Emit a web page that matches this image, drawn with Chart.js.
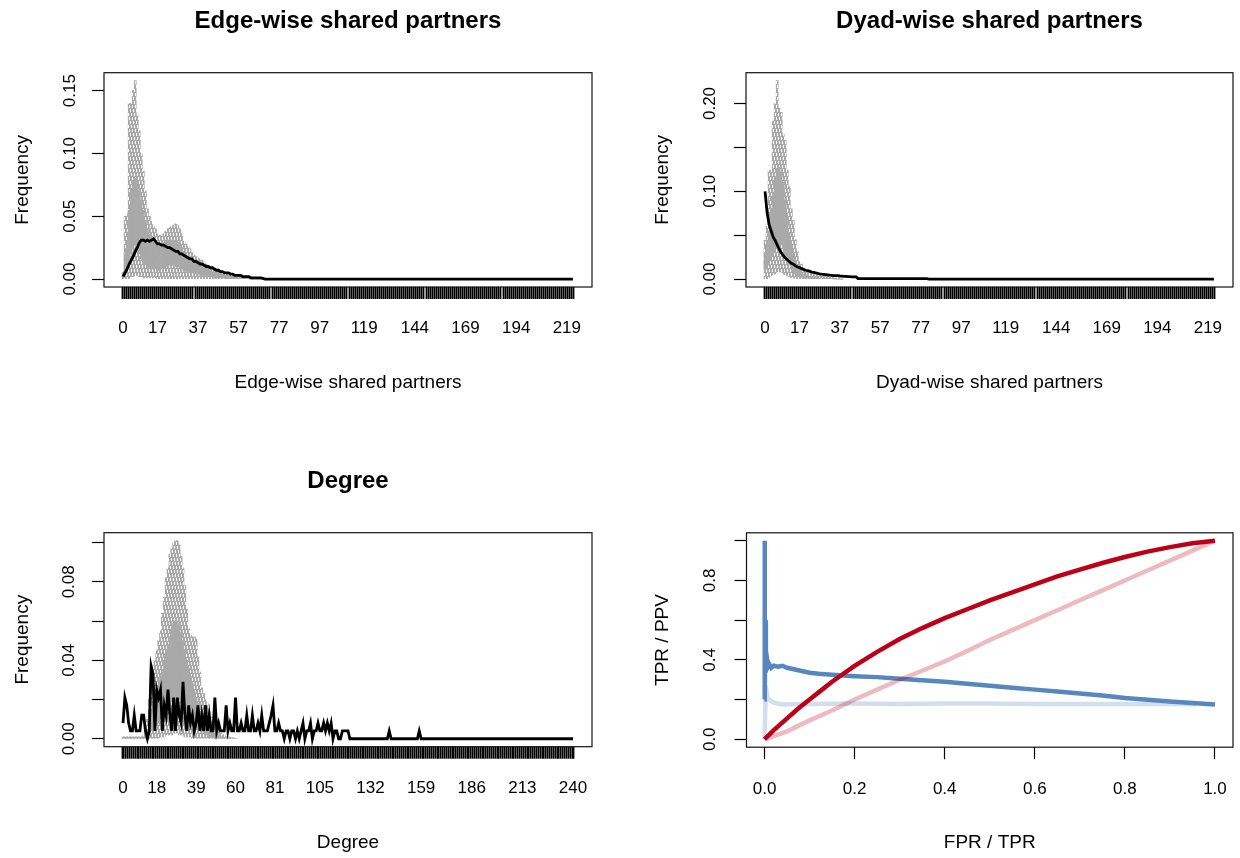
<!DOCTYPE html>
<html lang="en">
<head>
<meta charset="UTF-8">
<title>Goodness of fit</title>
<script src="https://cdn.jsdelivr.net/npm/chart.js"></script>
<style>
  body { margin: 0; background: #fff; }
  .page { position: relative; width: 1240px; height: 858px; }
  canvas { position: absolute; }
</style>
</head>
<body>
<div class="page">
  <canvas id="esp" width="620" height="429" style="left:0;top:0"></canvas>
  <canvas id="dsp" width="620" height="429" style="left:620px;top:0"></canvas>
  <canvas id="deg" width="620" height="429" style="left:0;top:429px"></canvas>
  <canvas id="roc" width="620" height="429" style="left:620px;top:429px"></canvas>
</div>
<script>
// ---- edge-wise shared partners ----
const espCats = Array.from({ length: 223 }, (_, i) => i);
const espTickLabels = [0, 17, 37, 57, 77, 97, 119, 144, 169, 194, 219];
const espObs = [
  0.002,0.005,0.008,0.012,0.015,0.018,0.022,0.025,0.029,0.031,
  0.031,0.030,0.031,0.030,0.031,0.032,0.030,0.028,0.028,0.027,
  0.027,0.026,0.025,0.025,0.024,0.023,0.022,0.022,0.020,0.020,
  0.019,0.018,0.017,0.016,0.016,0.014,0.014,0.013,0.012,0.012,
  0.011,0.010,0.010,0.009,0.009,0.008,0.007,0.007,0.006,0.006,
  0.005,0.005,0.005,0.004,0.004,0.003,0.003,0.003,0.003,0.002,
  0.002,0.002,0.002,0.001,0.001,0.001,0.001,0.001,0.001,0.0005,
  0,0,0,0,0,0,0,0,0,0, 0,0,0,0,0,0,0,0,0,0, 0,0,0,0,0,0,0,0,0,0,
  0,0,0,0,0,0,0,0,0,0, 0,0,0,0,0,0,0,0,0,0, 0,0,0,0,0,0,0,0,0,0,
  0,0,0,0,0,0,0,0,0,0, 0,0,0,0,0,0,0,0,0,0, 0,0,0,0,0,0,0,0,0,0,
  0,0,0,0,0,0,0,0,0,0, 0,0,0,0,0,0,0,0,0,0, 0,0,0,0,0,0,0,0,0,0,
  0,0,0,0,0,0,0,0,0,0, 0,0,0,0,0,0,0,0,0,0, 0,0,0,0,0,0,0,0,0,0,
  0,0,0
];
const espHi = [
  0.006,0.050,0.052,0.140,0.140,0.150,0.158,0.130,0.118,0.100,
  0.086,0.070,0.056,0.050,0.046,0.042,0.040,0.036,0.035,0.034,
  0.036,0.038,0.040,0.041,0.042,0.043,0.044,0.043,0.040,0.036,
  0.030,0.028,0.026,0.024,0.021,0.019,0.018,0.017,0.016,0.015,
  0.013,0.012,0.011,0.010,0.010,0.009,0.008,0.008,0.007,0.006,
  0.006,0.005,0.005,0.004,0.004,0.004,0.003,0.003,0.003,0.002,
  0.002,0.002,0.002,0.001,0.001,0.001,0.001,0.001,0.0005,0.0005,0
];
const espQ3 = [
  0.003,0.020,0.030,0.055,0.070,0.078,0.080,0.078,0.070,0.062,
  0.055,0.046,0.040,0.036,0.033,0.031,0.030,0.029,0.028,0.028,
  0.029,0.030,0.031,0.031,0.031,0.030,0.030,0.029,0.027,0.025,
  0.022,0.020,0.018,0.016,0.015,0.014,0.013,0.012,0.011,0.010,
  0.009,0.008,0.008,0.007,0.006,0.006,0.005,0.005,0.004,0.004,
  0.003,0.003,0.003,0.002,0.002,0.002,0.002,0.001,0.001,0.001,
  0.001,0.001,0.001,0,0,0,0,0,0,0,0
];
const espQ1 = [
  0.001,0.005,0.008,0.012,0.020,0.025,0.028,0.025,0.020,0.016,
  0.014,0.012,0.010,0.009,0.009,0.008,0.008,0.007,0.007,0.008,
  0.009,0.010,0.011,0.011,0.011,0.011,0.010,0.010,0.009,0.008,
  0.007,0.006,0.006,0.005,0.005,0.004,0.004,0.004,0.003,0.003,
  0.003,0.002,0.002,0.002,0.002,0.001,0.001,0.001,0.001,0.001,
  0.001,0,0,0,0,0,0,0,0,0,
  0,0,0,0,0,0,0,0,0,0,0
];
const espLo = [
  0,0,0,0,0.002,0.002,0.003,0.003,0.002,0.002,
  0.001,0.001,0.001,0.001,0.001,0.001,0.001,0,0,0,
  0,0,0,0,0,0,0,0,0,0, 0,0,0,0,0,0,0,0,0,0,
  0,0,0,0,0,0,0,0,0,0, 0,0,0,0,0,0,0,0,0,0,
  0,0,0,0,0,0,0,0,0,0,0
];
const espYTicks = [0, 0.05, 0.10, 0.15];
const espYLabels = ['0.00', '0.05', '0.10', '0.15'];

// ---- dyad-wise shared partners ----
const dspCats = Array.from({ length: 223 }, (_, i) => i);
const dspTickLabels = [0, 17, 37, 57, 77, 97, 119, 144, 169, 194, 219];
const dspObs = [
  0.100,0.076,0.062,0.055,0.048,0.044,0.039,0.034,0.030,0.027,
  0.024,0.022,0.020,0.018,0.017,0.015,0.014,0.013,0.012,0.011,
  0.010,0.0095,0.009,0.008,0.0075,0.007,0.0065,0.006,0.0056,0.0053,
  0.005,0.0047,0.0044,0.0042,0.004,0.004,0.0038,0.0035,0.0033,0.003,
  0.003,0.0028,0.0027,0.0026,0.0025,0.0025,0.0005,0.0005,0.0005,0.0005,
  0.0005,0.0005,0.0005,0.0005,0.0005,0.0005,0.0005,0.0005,0.0005,0.0005,
  0.0005,0.0005,0.0005,0.0005,0.0005,0.0005,0.0005,0.0005,0.0005,0.0005,
  0.0005,0.0005,0.0005,0.0005,0.0005,0.0005,0.0005,0.0005,0.0005,0.0005,
  0.0005,0,0,0,0,0,0,0,0,0,
  0,0,0,0,0,0,0,0,0,0, 0,0,0,0,0,0,0,0,0,0, 0,0,0,0,0,0,0,0,0,0,
  0,0,0,0,0,0,0,0,0,0, 0,0,0,0,0,0,0,0,0,0, 0,0,0,0,0,0,0,0,0,0,
  0,0,0,0,0,0,0,0,0,0, 0,0,0,0,0,0,0,0,0,0, 0,0,0,0,0,0,0,0,0,0,
  0,0,0,0,0,0,0,0,0,0, 0,0,0,0,0,0,0,0,0,0, 0,0,0,0,0,0,0,0,0,0,
  0,0,0,0,0,0,0,0,0,0,
  0,0,0
];
const dspHi = [
  0.044,0.060,0.124,0.124,0.180,0.200,0.226,0.195,0.190,0.165,
  0.158,0.124,0.105,0.080,0.067,0.045,0.032,0.020,0.017,0.012,
  0.009,0.008,0.007,0.006,0.006,0.005,0.005,0.004,0.004,0.004,
  0.003,0.003,0.002,0.002,0.0015,0.001,0.001,0.0005,0
];
const dspQ3 = [
  0.030,0.040,0.055,0.075,0.095,0.115,0.125,0.127,0.122,0.110,
  0.090,0.070,0.052,0.038,0.028,0.020,0.015,0.011,0.008,0.006,
  0.005,0.004,0.003,0.003,0.002,0.002,0.002,0.001,0.001,0.001,
  0.001,0.001,0.0005,0.0005,0.0003,0,0,0,0
];
const dspQ1 = [
  0.010,0.015,0.020,0.025,0.030,0.035,0.040,0.042,0.040,0.038,
  0.030,0.022,0.016,0.012,0.008,0.006,0.004,0.003,0.002,0.001,
  0.001,0.001,0,0,0,0,0,0,0,0,
  0,0,0,0,0,0,0,0,0
];
const dspLo = [
  0,0,0.002,0.004,0.005,0.006,0.008,0.008,0.008,0.006,
  0.005,0.004,0.003,0.002,0.001,0.001,0,0,0,0,
  0,0,0,0,0,0,0,0,0,0,
  0,0,0,0,0,0,0,0,0
];
const dspYTicks = [0, 0.05, 0.10, 0.15, 0.20];
const dspYLabels = ['0.00', '', '0.10', '', '0.20'];

// ---- degree ----
const degCats = Array.from({ length: 241 }, (_, i) => i);
const degTickLabels = [0, 18, 39, 60, 81, 105, 132, 159, 186, 213, 240];
const degObs = [
  0.008,0.021,0.017,0.008,0.004,0.004,0.012,0.004,0.004,0.004,
  0.012,0.012,0.004,0,0.004,0.037,0.033,0.004,0.025,0.021,
  0.025,0.004,0.017,0.012,0.025,0.012,0.004,0.021,0.004,0.021,
  0.012,0.008,0.029,0.012,0.004,0.017,0.008,0.012,0.004,0.008,
  0.017,0.004,0.012,0.004,0.017,0.004,0.012,0.004,0.004,0.021,
  0.004,0.008,0.004,0.004,0.004,0.017,0.004,0.008,0.004,0.004,
  0.021,0.004,0.004,0.008,0.004,0.004,0.012,0.004,0.004,0.012,
  0.004,0.004,0.008,0.004,0.012,0.004,0.004,0.004,0.008,0.012,
  0.017,0.004,0.004,0.008,0.004,0.004,0,0.004,0.004,0,
  0.004,0.004,0,0.004,0,0.004,0.008,0,0.004,0.004,
  0.008,0,0.004,0.004,0.008,0.004,0.004,0.008,0.004,0.008,
  0.004,0.008,0,0.004,0.004,0,0,0.004,0.004,0.004,
  0.004,0,0,0,0,0,0,0,0,0,
  0,0,0,0,0,0,0,0,0,0,
  0,0,0.004,0,0,0,0,0,0,0,
  0,0,0,0,0,0,0,0,0.004,0,
  0,0,0,0,0,0,0,0,0,0, 0,0,0,0,0,0,0,0,0,0,
  0,0,0,0,0,0,0,0,0,0, 0,0,0,0,0,0,0,0,0,0,
  0,0,0,0,0,0,0,0,0,0, 0,0,0,0,0,0,0,0,0,0,
  0,0,0,0,0,0,0,0,0,0, 0,0,0,0,0,0,0,0,0,0,
  0
];
const degHi = [
  0.001,0.001,0.001,0.001,0.001,0.001,0.001,0.001,0.001,0.001,
  0.001,0.002,0.004,0.010,0.020,0.035,0.037,0.040,0.045,0.050,
  0.055,0.064,0.072,0.082,0.087,0.094,0.097,0.100,0.101,0.101,
  0.099,0.093,0.087,0.078,0.066,0.056,0.053,0.052,0.052,0.051,
  0.042,0.034,0.026,0.023,0.020,0.018,0.014,0.011,0.009,0.007,
  0.005,0.004,0.003,0.002,0.002,0.001,0.001,0.0008,0.0005,0.0005,0
];
const degQ3 = [
  0.0005,0.0005,0.0005,0.0005,0.0005,0.0005,0.0005,0.0005,0.0005,0.0005,
  0.0005,0.001,0.002,0.004,0.008,0.013,0.016,0.019,0.023,0.027,
  0.031,0.035,0.040,0.044,0.048,0.052,0.056,0.059,0.060,0.060,
  0.058,0.054,0.050,0.045,0.040,0.036,0.032,0.028,0.024,0.021,
  0.018,0.014,0.011,0.009,0.008,0.007,0.005,0.004,0.004,0.003,
  0.002,0.002,0.001,0.001,0.0005,0.0005,0,0,0,0,0
];
const degQ1 = [
  0,0,0,0,0,0,0,0,0,0,
  0,0,0,0.001,0.002,0.004,0.005,0.006,0.007,0.008,
  0.010,0.012,0.014,0.015,0.016,0.018,0.019,0.020,0.021,0.021,
  0.020,0.018,0.016,0.015,0.013,0.011,0.010,0.009,0.008,0.007,
  0.006,0.005,0.004,0.003,0.002,0.002,0.001,0.001,0.001,0,
  0,0,0,0,0,0,0,0,0,0,0
];
const degLo = [
  0,0,0,0,0,0,0,0,0,0, 0,0,0,0,0,0,0,0,0,0,
  0.001,0.001,0.001,0.002,0.002,0.002,0.002,0.003,0.003,0.003,
  0.002,0.002,0.002,0.001,0.001,0.001,0.001,0,0,0,
  0,0,0,0,0,0,0,0,0,0, 0,0,0,0,0,0,0,0,0,0,0
];
const degYTicks = [0, 0.02, 0.04, 0.06, 0.08, 0.10];
const degYLabels = ['0.00', '', '0.04', '', '0.08', ''];

// ---- ROC / PR ----
const rocFpr = [0,0.01,0.02,0.035,0.05,0.075,0.1,0.125,0.15,0.175,0.2,0.25,0.3,0.35,0.4,0.45,0.5,0.55,0.6,0.65,0.7,0.75,0.8,0.85,0.9,0.95,1];
const rocTpr = [0,0.022,0.045,0.075,0.105,0.155,0.2,0.245,0.29,0.33,0.37,0.44,0.505,0.56,0.61,0.655,0.70,0.74,0.78,0.82,0.855,0.888,0.918,0.945,0.968,0.987,1];
const rgRocFpr = [0,0.05,0.1,0.15,0.2,0.25,0.3,0.35,0.4,0.45,0.5,0.55,0.6,0.65,0.7,0.75,0.8,0.85,0.9,0.95,1];
const rgRocTpr = [0,0.04,0.095,0.145,0.2,0.25,0.3,0.345,0.392,0.445,0.5,0.55,0.6,0.65,0.7,0.75,0.8,0.85,0.9,0.95,1];
const prTpr = [0,0,0.001,0.002,0.003,0.004,0.006,0.008,0.01,0.015,0.02,0.03,0.04,0.05,0.06,0.07,0.08,0.1,0.12,0.15,0.2,0.25,0.3,0.35,0.4,0.45,0.5,0.55,0.6,0.65,0.7,0.75,0.8,0.85,0.9,0.95,1];
const prPpv = [0.2,1.0,0.2,0.6,0.42,0.36,0.40,0.37,0.38,0.36,0.37,0.365,0.37,0.36,0.355,0.35,0.345,0.335,0.33,0.325,0.318,0.313,0.305,0.297,0.29,0.28,0.27,0.26,0.25,0.24,0.23,0.22,0.208,0.199,0.19,0.183,0.175];
const rgPrTpr = [0,0.003,0.006,0.01,0.02,0.04,0.1,0.2,0.3,0.4,0.5,0.6,0.7,0.8,0.9,0.96];
const rgPrPpv = [0,0.27,0.22,0.2,0.185,0.175,0.178,0.18,0.178,0.18,0.18,0.178,0.177,0.178,0.178,0.176];
const rocTicks = [0, 0.2, 0.4, 0.6, 0.8, 1.0];
const rocXLabels = ['0.0', '0.2', '0.4', '0.6', '0.8', '1.0'];
const rocYLabels = ['0.0', '', '0.4', '', '0.8', ''];

// ---- drawing ----
Chart.defaults.font.family = "'Liberation Sans', Arial, sans-serif";
Chart.defaults.color = '#000';

const GRAY = '#a9a9a9';

// dashed whiskers: a vertical dash texture, staggered column by column
function dashPattern() {
  const c = document.createElement('canvas');
  c.width = 3; c.height = 12;
  const g = c.getContext('2d');
  g.fillStyle = GRAY;
  [0, 4, 8].forEach((off, col) => {
    g.fillRect(col, off, 1, 9);
    g.fillRect(col, off - 12, 1, 9);
  });
  return g.createPattern(c, 'repeat');
}

const boxFrame = {
  id: 'boxFrame',
  afterDraw(chart) {
    const a = chart.chartArea, ctx = chart.ctx;
    ctx.save();
    ctx.strokeStyle = '#111';
    ctx.lineWidth = 1.2;
    ctx.strokeRect(a.left, a.top, a.right - a.left, a.bottom - a.top);
    ctx.restore();
  }
};

function tickGrid(w) {
  return { drawOnChartArea: false, tickLength: 12, tickColor: '#000', tickWidth: w };
}

function axisX(o) {
  return {
    type: 'linear', bounds: 'data', min: o.min, max: o.max,
    afterBuildTicks: ax => { ax.ticks = o.ticks.map(v => ({ value: v })); },
    afterFit: ax => { ax.height = o.height; ax.paddingLeft = 0; ax.paddingRight = 0; },
    ticks: { autoSkip: false, minRotation: 0, maxRotation: 0, padding: 19.5, font: { size: 17 }, callback: o.label },
    grid: tickGrid(o.tickWidth),
    border: { display: false },
    title: { display: true, text: o.title, font: { size: 19 }, padding: { top: 0, bottom: o.titlePad } }
  };
}

function axisY(o) {
  return {
    type: 'linear', bounds: 'data', min: o.min, max: o.max,
    afterBuildTicks: ax => { ax.ticks = o.ticks.map(v => ({ value: v })); },
    afterFit: ax => { ax.width = o.width; ax.paddingTop = 0; ax.paddingBottom = 0; },
    ticks: { autoSkip: false, minRotation: 90, maxRotation: 90, crossAlign: 'center', padding: o.tickPad, font: { size: 17 }, callback: (v, i) => o.labels[i] },
    grid: tickGrid(1.2),
    border: { display: false },
    title: { display: true, text: o.title, font: { size: 19 }, padding: { top: o.titlePad, bottom: 0 } }
  };
}

function gofPanel(id, p) {
  const n = p.cats.length - 1;
  const yMax = Math.max(...p.hi, ...p.obs);
  const pattern = dashPattern();
  new Chart(document.getElementById(id), {
    type: 'line',
    data: {
      datasets: [
        { type: 'line', data: p.obs.map((v, i) => ({ x: i, y: v })), borderColor: '#000', borderWidth: 2.8, pointRadius: 0, tension: 0 },
        { type: 'bar', data: p.q1.map((v, i) => ({ x: i, y: [v, p.q3[i]] })), backgroundColor: GRAY, barPercentage: 1, categoryPercentage: 1, grouped: false },
        { type: 'bar', data: p.lo.map((v, i) => ({ x: i, y: [v, p.hi[i]] })), backgroundColor: pattern, barThickness: 2, grouped: false }
      ]
    },
    options: {
      responsive: false, animation: false, events: [],
      layout: { padding: { left: 0, top: 0, bottom: 0, right: p.padRight } },
      plugins: {
        legend: { display: false }, tooltip: { enabled: false },
        title: { display: true, text: p.title, fullSize: false, font: { size: 24, weight: 'bold' }, padding: { top: p.titleTop, bottom: 37.3 } }
      },
      scales: {
        x: axisX({ min: -0.04 * n, max: 1.04 * n, ticks: p.cats.map((c, i) => i), height: p.xHeight, tickWidth: 1.8,
          label: v => p.tickLabels.includes(p.cats[v]) ? String(p.cats[v]) : '', title: p.title, titlePad: p.xTitlePad }),
        y: axisY({ min: -0.04 * yMax, max: 1.04 * yMax, ticks: p.yTicks, labels: p.yLabels, width: p.yWidth,
          tickPad: p.yTickPad, title: 'Frequency', titlePad: p.yTitlePad })
      }
    },
    plugins: [boxFrame]
  });
}

gofPanel('esp', {
  cats: espCats, tickLabels: espTickLabels, obs: espObs, hi: espHi, q3: espQ3, q1: espQ1, lo: espLo,
  yTicks: espYTicks, yLabels: espYLabels, title: 'Edge-wise shared partners',
  padRight: 28, titleTop: 6.6, xHeight: 142, xTitlePad: 34.8, yWidth: 104, yTickPad: 5.5, yTitlePad: 11.6
});
gofPanel('dsp', {
  cats: dspCats, tickLabels: dspTickLabels, obs: dspObs, hi: dspHi, q3: dspQ3, q1: dspQ1, lo: dspLo,
  yTicks: dspYTicks, yLabels: dspYLabels, title: 'Dyad-wise shared partners',
  padRight: 7, titleTop: 6.6, xHeight: 142, xTitlePad: 34.8, yWidth: 126, yTickPad: 7.5, yTitlePad: 31.6
});
gofPanel('deg', {
  cats: degCats, tickLabels: degTickLabels, obs: degObs, hi: degHi, q3: degQ3, q1: degQ1, lo: degLo,
  yTicks: degYTicks, yLabels: degYLabels, title: 'Degree',
  padRight: 28, titleTop: 37.6, xHeight: 111.3, xTitlePad: 4.1, yWidth: 104, yTickPad: 6.5, yTitlePad: 11.6
});

const xy = (xs, ys) => xs.map((x, i) => ({ x, y: ys[i] }));
new Chart(document.getElementById('roc'), {
  type: 'line',
  data: {
    datasets: [
      { data: xy(rocFpr, rocTpr), borderColor: '#bd0017' },
      { data: xy(rgRocFpr, rgRocTpr), borderColor: 'rgba(189,0,23,0.27)' },
      { data: xy(prTpr, prPpv), borderColor: '#5886be' },
      { data: xy(rgPrTpr, rgPrPpv), borderColor: 'rgba(88,134,190,0.27)' }
    ].map(d => Object.assign(d, { borderWidth: 4.5, pointRadius: 0, tension: 0 }))
  },
  options: {
    responsive: false, animation: false, events: [],
    layout: { padding: { left: 0, top: 103.8, bottom: 0, right: 7 } },
    plugins: { legend: { display: false }, tooltip: { enabled: false } },
    scales: {
      x: axisX({ min: -0.04, max: 1.04, ticks: rocTicks, height: 110.8, tickWidth: 1.2, label: (v, i) => rocXLabels[i],
        title: 'FPR / TPR', titlePad: 4.1 }),
      y: axisY({ min: -0.04, max: 1.04, ticks: rocTicks, labels: rocYLabels, width: 126.5,
        tickPad: 12.7, title: 'TPR / PPV', titlePad: 31.6 })
    }
  },
  plugins: [boxFrame]
});
</script>
</body>
</html>
